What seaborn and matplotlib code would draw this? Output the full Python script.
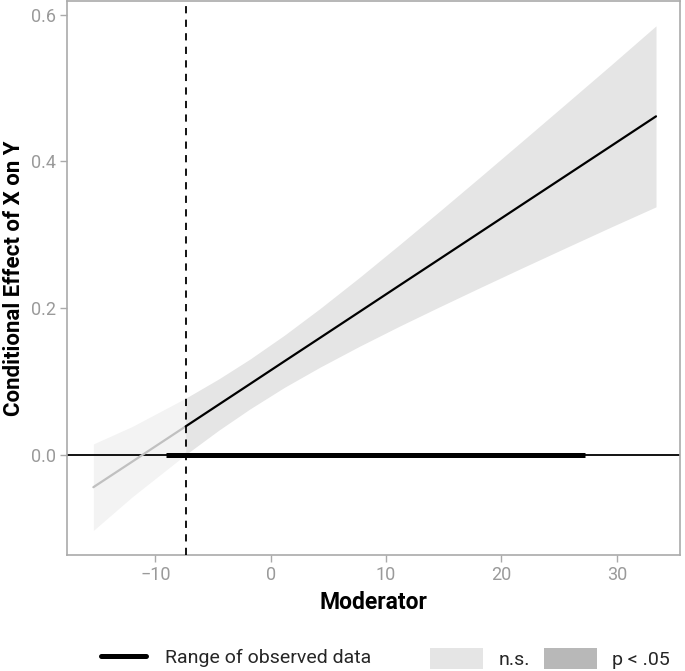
import numpy as np
import pandas as pd
import matplotlib
matplotlib.use("Agg")
import matplotlib.pyplot as plt
from matplotlib.lines import Line2D
from matplotlib.patches import Patch
import seaborn as sns

# ── Data ─────────────────────────────────────────────────────
moderator = [-15.37, -12.0, -7.37, -4.5, -1.8, 1.2, 4.27, 7.7,
             11.2, 14.5, 18.14, 22.0, 25.76, 29.5, 33.39]
effect    = [-0.0445, -0.0096, 0.0385, 0.0683, 0.0963, 0.1275, 0.1593, 0.1949,
             0.2313, 0.2655, 0.3033, 0.3434, 0.3824, 0.4212, 0.4616]
ci_lower  = [-0.1035, -0.0576, 0.0000, 0.0333, 0.0623, 0.0919, 0.1193, 0.1479,
             0.1756, 0.2007, 0.2279, 0.2563, 0.2836, 0.3106, 0.3381]
ci_upper  = [0.0145, 0.0384, 0.0770, 0.1033, 0.1303, 0.1631, 0.1993, 0.2419,
             0.2870, 0.3303, 0.3787, 0.4305, 0.4812, 0.5318, 0.5851]
jn_point  = -7.37                 # Johnson-Neyman boundary
obs_range = [-9.07, 27.24]        # range of observed moderator values
x_ticks   = [-10, 0, 10, 20, 30]
y_ticks   = [0.0, 0.2, 0.4, 0.6]

df = pd.DataFrame({"moderator": moderator, "effect": effect,
                   "lower": ci_lower, "upper": ci_upper})
ns  = df[df["moderator"] <= jn_point]
sig = df[df["moderator"] >= jn_point]

# ── Style ────────────────────────────────────────────────────
sns.set_theme(style="white")
plt.rcParams["font.family"] = ["Roboto", "DejaVu Sans"]

GREY_TXT  = "#9a9a9a"
GREY_AXIS = "#aaaaaa"

fig = plt.figure(figsize=(6.85, 6.71), dpi=100)
ax = fig.add_axes([0.0974, 0.1729, 0.8953, 0.8256])

# confidence bands
ax.fill_between(ns["moderator"], ns["lower"], ns["upper"], color="#f3f3f3", lw=0)
ax.fill_between(sig["moderator"], sig["lower"], sig["upper"], color="#e5e5e5", lw=0)

# reference lines
ax.axhline(0, color="black", lw=1.3, zorder=2)
ax.plot(obs_range, [0, 0], color="black", lw=3.6, solid_capstyle="butt", zorder=3)

# conditional effect
sns.lineplot(data=ns, x="moderator", y="effect", color="#c0c0c0", lw=1.6, ax=ax, zorder=4)
sns.lineplot(data=sig, x="moderator", y="effect", color="black", lw=1.6, ax=ax, zorder=4)

ax.axvline(jn_point, color="black", lw=1.3, ls=(0, (4, 3.5)), zorder=5)

# ── Axes ─────────────────────────────────────────────────────
ax.set_xlim(-17.68, 35.47)
ax.set_ylim(-0.137, 0.619)
ax.set_xticks(x_ticks)
ax.set_yticks(y_ticks)
ax.set_yticklabels([f"{v:.1f}" for v in y_ticks])
ax.tick_params(axis="both", colors=GREY_AXIS, labelcolor=GREY_TXT,
               labelsize=13, length=5, width=1, direction="out",
               bottom=True, left=True, pad=3)
for s in ax.spines.values():
    s.set_color(GREY_AXIS)
    s.set_linewidth(1.2)

ax.set_xlabel("Moderator", fontsize=16.5, fontweight="bold", color="black", labelpad=5)
ax.set_ylabel("Conditional Effect of X on Y", fontsize=16, fontweight="bold",
              color="black")
ax.yaxis.set_label_coords(-0.068, 0.5)

# ── Legends ──────────────────────────────────────────────────
h_line = [Line2D([0], [0], color="black", lw=3.6)]
fig.legend(h_line, ["Range of observed data"], loc="center left",
           bbox_to_anchor=(0.1474, 0.019), frameon=False, fontsize=14,
           handlelength=2.3, handletextpad=1.0, borderpad=0, borderaxespad=0)

h_fill = [Patch(facecolor="#e5e5e5", edgecolor="none"),
          Patch(facecolor="#b8b8b8", edgecolor="none")]
fig.legend(h_fill, ["n.s.", "p < .05"], loc="center left",
           bbox_to_anchor=(0.628, 0.019), frameon=False, fontsize=14, ncol=2,
           handlelength=2.73, handleheight=1.3, handletextpad=0.77,
           columnspacing=0.72, borderpad=0, borderaxespad=0)

plt.savefig("out.png", dpi=100)
